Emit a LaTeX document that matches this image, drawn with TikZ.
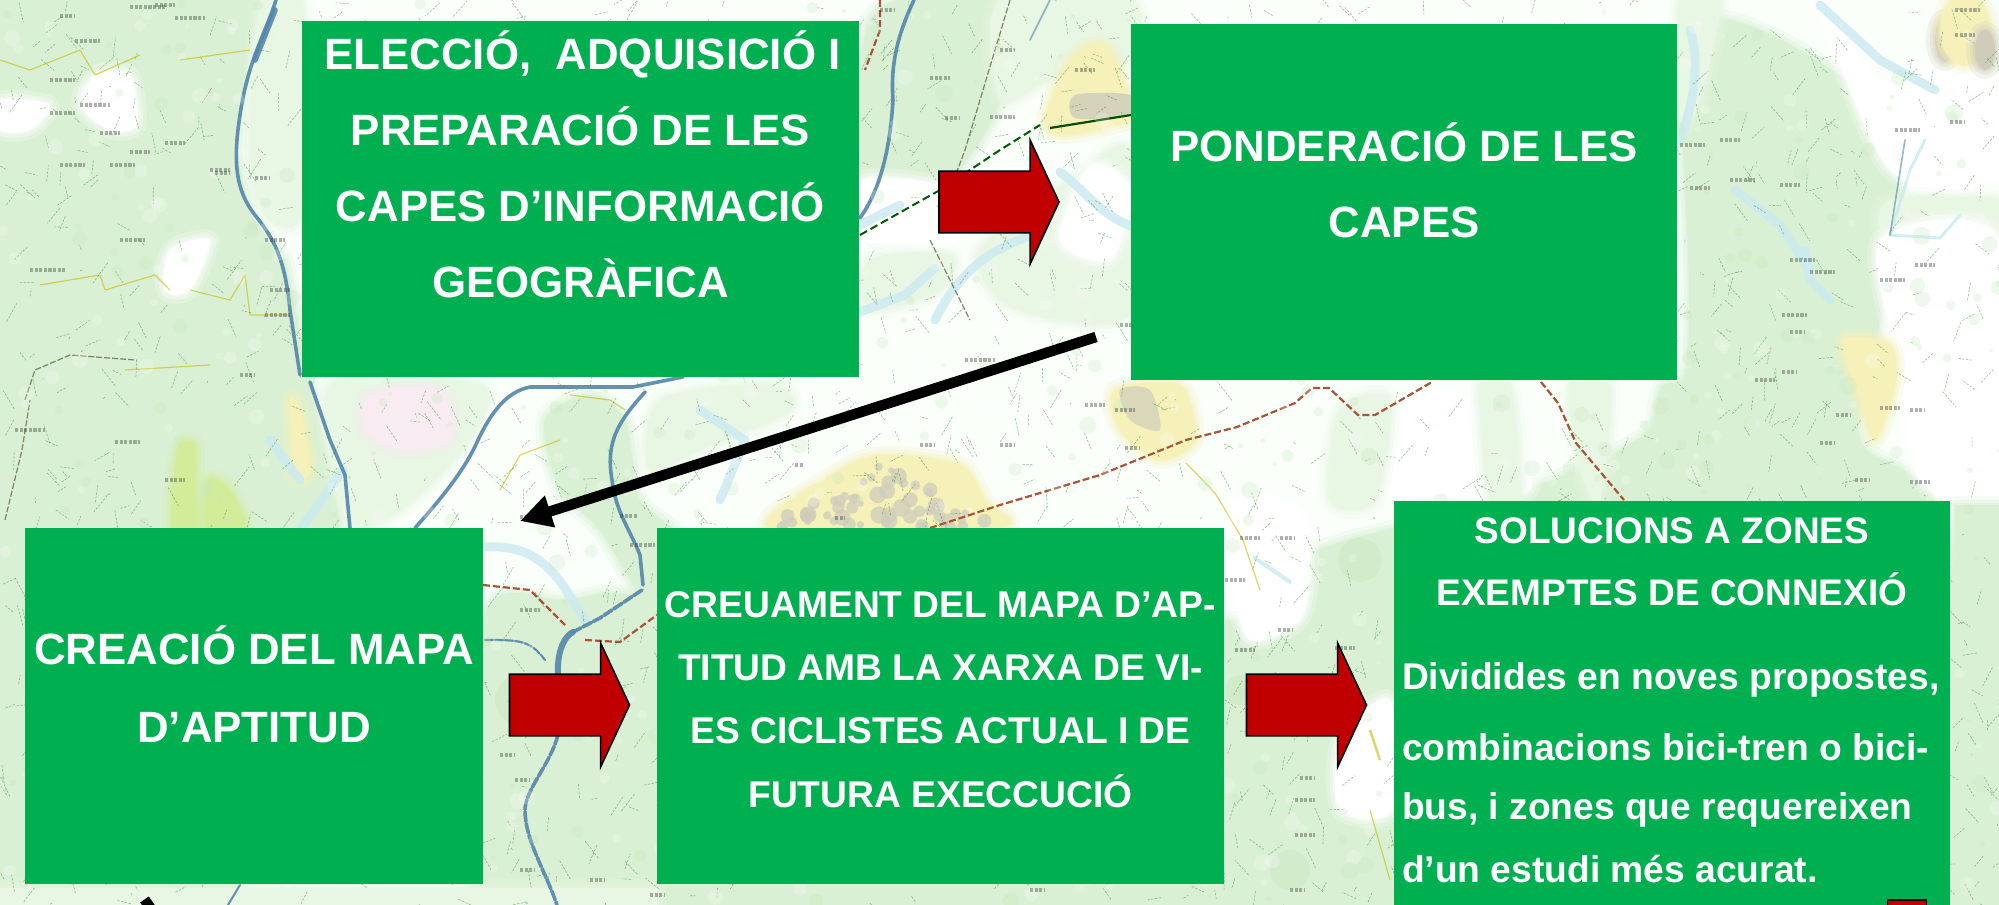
\documentclass[tikz,border=0pt]{standalone}
\usepackage{fontspec}
\setmainfont{Liberation Sans}
\usetikzlibrary{arrows.meta,shapes.arrows}
\definecolor{boxgreen}{HTML}{00B050}
\definecolor{boxred}{HTML}{C00000}
\definecolor{mapgreen}{HTML}{DAF0D4}
\definecolor{mapgreenb}{HTML}{E8F6E4}
\definecolor{mapdeep}{HTML}{C8E8BE}
\definecolor{riverdark}{HTML}{5486AB}
\definecolor{riverpale}{HTML}{CDEBF1}
\definecolor{roadrail}{HTML}{A8533A}
\definecolor{townyellow}{HTML}{F5F1B8}
\definecolor{towngrey}{HTML}{CFCCBC}
\definecolor{mappink}{HTML}{F8ECF2}
\definecolor{limegreen}{HTML}{D2EC9A}
\tikzset{
  panel/.style={fill=boxgreen,draw=none,inner sep=0pt,outer sep=0pt,anchor=north west},
  bigarrow/.style={single arrow,fill=boxred,draw=black,line width=0.8pt,inner xsep=0pt,inner ysep=15pt,outer sep=0pt,
    minimum height=60pt,single arrow head extend=15.5pt,
    single arrow tip angle=130,anchor=tail},
  flowline/.style={draw=black,line width=5.25pt},
  blackflow/.style={flowline,-{Triangle[length=15.75pt,width=15.6pt]}},
  patch/.style={draw=none,fill=#1,preaction={draw=#1,line width=9pt,opacity=.22,line join=round},preaction={draw=#1,line width=5pt,opacity=.3,line join=round},preaction={draw=#1,line width=2pt,opacity=.4,line join=round}},
  riverd/.style={draw=riverdark,line width=1.8pt,line join=round,line cap=round,opacity=.9},
  riverp/.style={draw=riverpale,line width=4.5pt,line join=round,line cap=round,opacity=.85},
  rail/.style={draw=roadrail,line width=1.1pt,dash pattern=on 3.5pt off 1.5pt},
  raild/.style={draw=black!65!green,line width=1pt,dash pattern=on 4pt off 2pt},
  yroad/.style={draw=yellow!50!olive,line width=.6pt,line join=round,opacity=.6},
  trackline/.style={draw=black!50!olive,line width=.6pt,dash pattern=on 3pt off 1pt,opacity=.7},
  labelmark/.style={draw=black!80,line width=2.2pt,opacity=.38,dash pattern=on 1.6pt off .7pt},
}
\begin{document}
\begin{tikzpicture}[x=0.5pt,y=-0.5pt]
\useasboundingbox (0,0) rectangle (1999,905);
\clip (0,0) rectangle (1999,905);
\fill[white!98!green] (0,0) rectangle (1999,905);
% ---- vegetation
\fill[patch=mapgreen] plot coordinates {(-20,-20) (262,-20) (248,60) (236,150) (250,215) (285,260) (300,330) (340,520) (300,700) (240,800) (240,925) (-20,925)} -- cycle;
\fill[patch=mapgreenb] plot[smooth cycle] coordinates {(262,0) (302,0) (302,210) (265,215) (250,150)};
\fill[patch=mapgreen] plot[smooth cycle] coordinates {(870,20) (1005,-10) (1000,100) (950,180) (870,235)};
\fill[patch=mapgreenb] plot[smooth cycle] coordinates {(1000,0) (1130,0) (1130,60) (1050,80) (1000,100)};
\fill[patch=mapgreenb] plot[smooth cycle] coordinates {(1070,180) (1131,150) (1131,310) (1060,320) (1000,300) (980,250)};
\fill[patch=mapgreenb] plot[smooth cycle] coordinates {(870,260) (950,255) (940,290) (870,310)};
\fill[patch=mapgreen] plot[smooth cycle] coordinates {(545,420) (590,395) (625,420) (640,500) (680,540) (660,620) (600,530) (560,490)};
\fill[patch=mapgreenb] plot[smooth cycle] coordinates {(660,400) (770,385) (790,410) (700,450) (650,470)};
\fill[patch=mapgreenb] plot[smooth cycle] coordinates {(330,385) (480,385) (470,440) (400,510) (350,520)};
\fill[patch=mappink] plot[smooth cycle] coordinates {(370,395) (440,390) (450,440) (400,450) (365,430)};
\fill[patch=mapgreen] plot[smooth cycle] coordinates {(483,620) (560,600) (660,620) (670,925) (483,925)};
\fill[patch=mapgreen] plot[smooth cycle] coordinates {(1690,30) (1860,90) (1900,190) (1880,320) (1860,440) (1940,510) (1999,800) (1999,925) (1200,925) (1225,700) (1300,560) (1500,500) (1680,390)};
\fill[patch=white] plot[smooth cycle] coordinates {(1410,400) (1470,400) (1530,490) (1390,495) (1385,440)};
\fill[patch=mapgreenb] plot[smooth cycle] coordinates {(1340,410) (1390,400) (1375,500) (1330,500)};
\fill[patch=mapgreenb] plot[smooth cycle] coordinates {(1480,385) (1510,385) (1520,500) (1490,500)};
\fill[patch=mapgreenb] plot[smooth cycle] coordinates {(1570,385) (1610,385) (1600,500) (1580,470)};
\fill[patch=mapgreen] plot[smooth cycle] coordinates {(1690,500) (1650,500) (1660,390) (1690,400)};
\fill[patch=mapgreenb] plot[smooth cycle] coordinates {(1890,200) (1999,200) (1999,240) (1890,240)};
\fill[patch=mapgreenb] plot[smooth cycle] coordinates {(1680,0) (1720,0) (1700,100) (1680,120)};
\fill[patch=white] plot[smooth cycle] coordinates {(1820,0) (1880,80) (1950,60) (1999,90) (1999,180) (1890,170)};
\fill[patch=white] plot[smooth cycle] coordinates {(1880,240) (1999,240) (1999,500) (1920,480) (1900,370)};
\fill[patch=mapgreen] (1955,505) rectangle (2010,925);
\fill[patch=mapgreen] (657,880) rectangle (1400,925);
\fill[patch=mapgreen] (1225,620) rectangle (1320,905);
\fill[patch=white] plot[smooth cycle] coordinates {(1235,500) (1300,510) (1310,570) (1300,620) (1250,640) (1232,580)};
\fill[patch=white] plot[smooth cycle] coordinates {(1340,740) (1390,700) (1392,810) (1340,810)};
\fill[patch=mapgreenb] (0,888) rectangle (657,905);
\foreach \p/\q/\r in {1310/700/18,1360/560/22,1290/870/20,1240/690/15,520/700/25}
  \fill[mapdeep,opacity=.4] (\p,\q) circle (\r);
% paler fields
\fill[patch=white] plot[smooth cycle] coordinates {(95,75) (130,75) (137,125) (110,130) (80,105)};
\fill[patch=white] plot[smooth cycle] coordinates {(0,100) (50,105) (30,130) (0,130)};
\fill[patch=white] plot[smooth cycle] coordinates {(170,250) (210,240) (190,290) (165,290)};
\fill[patch=limegreen] plot[smooth cycle] coordinates {(178,450) (195,445) (195,490) (198,528) (172,528)};
\fill[patch=limegreen] plot[smooth cycle] coordinates {(208,480) (230,490) (245,528) (207,528)};
\fill[patch=white] plot[smooth cycle] coordinates {(860,240) (960,235) (960,190) (860,180)};
\fill[patch=white] plot[smooth cycle] coordinates {(1060,240) (1090,165) (1131,190) (1110,260)};
% ---- towns
\fill[patch=townyellow] plot[smooth cycle] coordinates {(1070,60) (1105,45) (1131,100) (1131,120) (1065,135) (1045,120)};
\fill[towngrey,opacity=.8] plot[smooth cycle] coordinates {(1075,95) (1131,95) (1131,115) (1075,118)};
\fill[patch=townyellow] plot[smooth cycle] coordinates {(1115,390) (1180,385) (1195,440) (1160,460) (1120,430)};
\fill[towngrey,opacity=.7] plot[smooth cycle] coordinates {(1120,390) (1150,390) (1160,430) (1130,420)};
\fill[patch=townyellow] plot[smooth cycle] coordinates {(770,528) (840,470) (885,455) (960,465) (985,500) (1000,528)};
\pgfmathsetseed{9}
\foreach \i in {1,...,55}{
  \pgfmathsetmacro{\xa}{780+rnd*205}\pgfmathsetmacro{\ya}{528-rnd*65*(1-abs(\xa-885)/120)}
  \pgfmathsetmacro{\ra}{3+rnd*6}
  \fill[towngrey,opacity=.75] (\xa,\ya) circle (\ra);
}
\fill[patch=townyellow] plot[smooth cycle] coordinates {(290,400) (300,410) (310,470) (295,475)};
\fill[patch=townyellow] plot[smooth cycle] coordinates {(1843,340) (1890,345) (1895,385) (1875,440) (1860,400)};
\fill[patch=towngrey] (1945,40) ellipse (10 and 22);
\fill[patch=townyellow] (1965,30) ellipse (25 and 35);
\fill[patch=towngrey] (1985,50) ellipse (10 and 20);
% ---- pale rivers
\draw[riverp] (935,320) .. controls (960,270) and (990,250) .. (1030,236);
\draw[riverp] (860,312) -- (905,295) -- (935,268);
\draw[riverp] (860,225) -- (900,205);
\draw[riverp] (1060,172) .. controls (1085,190) and (1100,215) .. (1131,226);
\draw[riverp] (1690,30) .. controls (1700,60) and (1695,100) .. (1680,140);
\draw[riverp] (1820,5) -- (1880,60) -- (1935,90);
\draw[riverp] (1735,190) -- (1780,225) -- (1810,270);
\draw[riverp] (1805,250) -- (1810,280) -- (1830,300);
\draw[riverp,line width=1.5pt] (1890,235) -- (1910,170) -- (1925,140);
\draw[riverp,line width=1.5pt] (1890,235) -- (1940,238) -- (1960,215);
\draw[riverp] (483,547) .. controls (520,545) and (540,555) .. (563,585) -- (585,620);
\draw[riverp] (300,530) -- (343,470);
\draw[riverp] (270,440) -- (300,480);
\draw[riverp] (720,500) -- (745,440) -- (700,410);
\draw[riverp,line width=2pt] (1255,558) -- (1290,582);
% ---- strong rivers
\draw[riverd] (276,0) .. controls (265,35) and (248,60) .. (240,115) .. controls (233,160) and (235,190) .. (255,215) .. controls (275,240) and (285,260) .. (290,310) -- (300,375);
\draw[riverd] (310,382) -- (330,440) -- (345,475) -- (350,528);
\draw[riverd,line width=2.8pt] (275,10) -- (255,60);
\draw[riverd] (683,377) -- (633,387) -- (530,387) .. controls (505,392) and (490,415) .. (478,440) .. controls (465,470) and (440,500) .. (415,528);
\draw[riverd] (645,392) .. controls (620,420) and (605,440) .. (612,480) .. controls (615,510) and (630,530) .. (640,555) -- (643,585);
\draw[riverd,dash pattern=on 5pt off 1pt] (642,590) -- (600,618) -- (573,632);
\draw[riverd,line width=3pt] (573,632) .. controls (558,640) and (555,670) .. (560,690);
\draw[riverd,dash pattern=on 5pt off 1pt] (558,735) .. controls (550,765) and (525,790) .. (525,810) .. controls (525,840) and (545,870) .. (557,905);
\draw[riverd,line width=1pt] (228,905) -- (240,885);
\draw[riverd,line width=1.8pt] (914,0) .. controls (900,30) and (890,60) .. (893,100) .. controls (890,150) and (880,190) .. (860,218);
\draw[riverd,line width=.8pt,opacity=.6] (1030,40) -- (1050,0);
\draw[riverd,line width=.8pt,opacity=.6] (1905,140) -- (1890,235);
\draw[riverd,line width=1.1pt,dash pattern=on 4pt off 1pt] (485,640) .. controls (520,640) and (530,640) .. (545,660);
% ---- rail and roads
\draw[raild] (860,235) -- (940,190) -- (1000,150) -- (1040,125);
\draw[draw=black!70!green,line width=1.1pt] (1050,128) -- (1131,115);
\draw[rail] (930,528) -- (1000,505) -- (1100,475) -- (1186,440) -- (1237,427) -- (1295,403) -- (1312,388) -- (1329,388) -- (1358,415) -- (1375,415) -- (1432,382);
\draw[rail] (1541,382) -- (1558,403) -- (1576,443) -- (1624,500);
\draw[rail] (880,0) -- (880,30) -- (865,70);
\draw[rail] (483,585) -- (530,590) -- (545,605) -- (565,625);
\draw[rail] (585,640) -- (620,642) -- (657,615);
\draw[yroad] (0,60) -- (30,70) -- (80,50) -- (95,75) -- (140,55);
\draw[yroad] (180,60) -- (250,50);
\draw[yroad] (40,285) -- (100,275) -- (105,290) -- (155,275) -- (170,290);
\draw[yroad] (190,290) -- (230,300) -- (245,275) -- (250,315) -- (290,315);
\draw[yroad] (125,370) -- (210,365);
\draw[yroad] (500,490) -- (520,455) -- (560,440);
\draw[yroad] (570,395) -- (610,400) -- (625,410);
\draw[yroad] (1186,463) -- (1215,493) -- (1243,540) -- (1260,590);
\draw[yroad] (1370,810) -- (1390,880);
\draw[yroad,line width=1.2pt] (1370,730) -- (1380,760);
\draw[trackline] (25,400) -- (35,370) -- (70,355) -- (135,360);
\draw[trackline] (5,520) -- (22,450) -- (30,400);
\draw[trackline] (930,240) -- (970,320);
\draw[trackline] (1010,0) -- (965,150) -- (950,190);
% ---- fine map texture
\pgfmathsetseed{41}
\foreach \i in {1,...,2200}{
  \pgfmathsetmacro{\xa}{rnd*1999}\pgfmathsetmacro{\ya}{rnd*905}
  \pgfmathsetmacro{\dxa}{(rnd-.5)*30}\pgfmathsetmacro{\dya}{(rnd-.5)*40}
  \draw[draw=black!40!green!55!gray,line width=.3pt,opacity=.55,dash pattern=on 1.2pt off .7pt] (\xa,\ya) -- ++(\dxa,\dya);
}
\foreach \i in {1,...,650}{
  \pgfmathsetmacro{\xa}{rnd*1999}\pgfmathsetmacro{\ya}{rnd*905}
  \pgfmathsetmacro{\ra}{2+rnd*6}
  \fill[white,opacity=.22] (\xa,\ya) circle (\ra);
}
\foreach \i in {1,...,420}{
  \pgfmathsetmacro{\xa}{rnd*1999}\pgfmathsetmacro{\ya}{rnd*905}
  \pgfmathsetmacro{\ra}{2+rnd*7}
  \fill[mapdeep,opacity=.28] (\xa,\ya) circle (\ra);
}
% ---- illegible map lettering
\foreach \a/\b/\w in {130/7/35,175/18/30,60/16/15,75/41/25,155/5/20,50/80/25,50/113/25,80/105/30,100/133/20,60/165/25,165/143/20,130/152/20,110/165/25,210/170/20,215/173/15,255/178/15,265/240/20,270/290/20,265/315/25,30/270/35,120/240/25,15/430/30,115/442/25,240/375/15,165/480/20,
 880/10/15,1000/50/15,930/78/20,945/118/15,990/117/25,1075/70/20,1120/325/25,965/360/30,1085/405/20,1125/448/15,
 835/518/10,620/516/18,630/545/25,795/465/8,920/445/15,1000/445/15,1115/410/20,520/517/20,
 1680/145/25,1720/140/20,1730/180/25,1690/188/20,1780/185/20,1782/315/25,1790/260/25,1810/272/25,1790/332/15,1895/130/25,1955/10/25,1955/35/20,1950/122/15,1915/265/20,1880/280/25,
 1755/380/20,1782/372/15,1836/415/15,1880/408/20,1910/410/15,1820/443/15,1855/480/15,1910/482/20,
 1240/538/20,1225/580/20,1280/538/15,1235/650/20,1278/630/15,1335/648/20,1295/800/20,1295/835/20,1300/778/15,
 520/610/20,500/755/15,515/780/15,650/895/15,590/880/15,520/870/15,1030/890/15,1290/890/15}
  \draw[labelmark] (\a,\b) -- ++(\w,0);
% ---- panels
\node[panel] (eleccio) at (302,21) {\parbox[c][178pt][t]{278.5pt}{\fontsize{21.9}{38}\selectfont\bfseries\color{white}\centering\vspace*{\dimexpr 24pt-.7\baselineskip\relax}\strut\hspace*{2pt}ELECCIÓ,\ \ ADQUISICIÓ I\\PREPARACIÓ DE LES\\CAPES D’INFORMACIÓ\\GEOGRÀFICA}};
\node[panel] (ponderacio) at (1131,24) {\parbox[c][178pt][t]{273pt}{\fontsize{21.9}{38}\selectfont\bfseries\color{white}\centering\vspace*{\dimexpr 68.5pt-.7\baselineskip\relax}\strut PONDERACIÓ DE LES\\CAPES}};
\node[panel] (aptitud) at (25,528) {\parbox[c][178pt][t]{229pt}{\fontsize{21.9}{39}\selectfont\bfseries\color{white}\centering\vspace*{\dimexpr 68pt-.7\baselineskip\relax}\strut CREACIÓ DEL MAPA\\D’APTITUD}};
\node[panel] (creuament) at (657,528) {\parbox[c][178pt][t]{283.5pt}{\fontsize{18.6}{31.7}\selectfont\bfseries\color{white}\centering\vspace*{\dimexpr 44.5pt-.7\baselineskip\relax}\strut CREUAMENT DEL MAPA D’AP-\\TITUD AMB LA XARXA DE VI-\\ES CICLISTES ACTUAL I DE\\FUTURA EXECCUCIÓ}};
\node[panel] (solucions) at (1394,501) {\parbox[c][202pt][t]{278pt}{\fontsize{18.5}{31}\selectfont\bfseries\color{white}\centering\vspace*{\dimexpr 21pt-.7\baselineskip\relax}\strut SOLUCIONS A ZONES\\EXEMPTES DE CONNEXIÓ\par\vspace{13.3pt}\raggedright\fontsize{18.6}{29}\selectfont\hspace*{4pt}Dividides en noves propostes,\\[6.5pt]\hspace*{4pt}combinacions bici-tren o bici-\\[.5pt]\hspace*{4pt}bus, i zones que requereixen\\[2.5pt]\hspace*{4pt}d’un estudi més acurat.}};
% ---- red block arrows
\node[bigarrow] (go1) at (939,202) {};
\node[bigarrow] (go2) at (509.5,705) {};
\node[bigarrow] (go3) at (1246.5,705) {};
\fill[boxred,draw=black,line width=.8pt] (1887.5,900) rectangle (1926.5,920);
% ---- black connectors
\coordinate (tail1) at (1096,337);
\coordinate (tip1) at (520,521);
\draw[blackflow] (tail1) -- (tip1);
\coordinate (tail2) at (144.5,899.5);
\coordinate (tip2) at (156,916);
\draw[flowline] (tail2) -- (tip2);
\end{tikzpicture}
\end{document}
